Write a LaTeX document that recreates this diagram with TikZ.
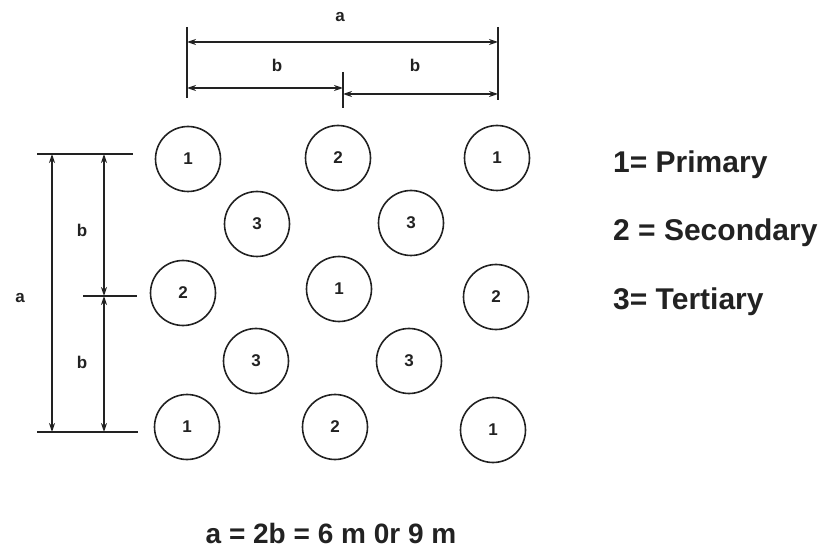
\documentclass[tikz,border=0pt]{standalone}
\usepackage{fontspec}
\setmainfont{Liberation Sans}
\usetikzlibrary{arrows.meta}
\definecolor{Ink}{HTML}{222222}

\begin{document}
\begin{tikzpicture}[x=1pt,y=-1pt,
    pile/.style={circle,draw=Ink,line width=1.6pt,minimum size=65pt,inner sep=0pt,
      text=Ink,font=\fontsize{17}{17}\selectfont\bfseries},
    dim/.style={Ink,line width=1.5pt,{Stealth[length=9pt,width=6pt]}-{Stealth[length=9pt,width=6pt]}},
    ext/.style={Ink,line width=1.5pt},
    lab/.style={text=Ink,font=\fontsize{17}{17}\selectfont\bfseries},
    legend/.style={anchor=base west,inner sep=0pt,text=Ink,font=\fontsize{30}{30}\selectfont\bfseries}]
  \useasboundingbox (0,0) rectangle (828,548);
  % piles
  \foreach \n/\x/\y/\t in {
    pa/188/159/1,pb/338/158/2,pc/497/158/1,
    ta/257/224/3,tb/411/223/3,
    pd/183/293/2,pe/339/289/1,pf/496/297/2,
    tc/256/361/3,td/409/361/3,
    pg/187/427/1,ph/335/427/2,pi/493/430/1}
    \node[pile] (\n) at (\x,\y) {\t};
  % top dimension
  \coordinate (topL1) at (187,27);  \coordinate (topL2) at (187,98);
  \coordinate (topR1) at (498,27);  \coordinate (topR2) at (498,100);
  \coordinate (topM1) at (343,72);  \coordinate (topM2) at (343,108);
  \draw[ext] (topL1) -- (topL2);
  \draw[ext] (topR1) -- (topR2);
  \draw[ext] (topM1) -- (topM2);
  \coordinate (aL) at (187,42);  \coordinate (aR) at (498,42);
  \coordinate (bL1) at (187,88); \coordinate (bL2) at (343,88);
  \coordinate (bR1) at (343,94); \coordinate (bR2) at (498,94);
  \draw[dim] (aL) -- (aR);
  \draw[dim] (bL1) -- (bL2);
  \draw[dim] (bR1) -- (bR2);
  \node[lab] (la) at (340,17) {a};
  \node[lab] (lb1) at (277,65) {b};
  \node[lab] (lb2) at (415,65) {b};
  % left dimension
  \coordinate (sT1) at (37,154);  \coordinate (sT2) at (133,154);
  \coordinate (sB1) at (37,432);  \coordinate (sB2) at (138,432);
  \coordinate (sM1) at (83,296);  \coordinate (sM2) at (137,296);
  \draw[ext] (sT1) -- (sT2);
  \draw[ext] (sB1) -- (sB2);
  \draw[ext] (sM1) -- (sM2);
  \coordinate (vaT) at (52,154);  \coordinate (vaB) at (52,432);
  \coordinate (vbT) at (104,154); \coordinate (vbM) at (104,296);
  \coordinate (vbB) at (104,432);
  \draw[dim] (vaT) -- (vaB);
  \draw[dim] (vbT) -- (vbM);
  \draw[dim] (vbM) -- (vbB);
  \node[lab] (sa) at (20,298) {a};
  \node[lab] (sb1) at (82,230) {b};
  \node[lab] (sb2) at (82,362) {b};
  % legend
  \node[legend] (l1) at (613,173) {1= Primary};
  \node[legend] (l2) at (613,241) {2 = Secondary};
  \node[legend] (l3) at (613,309) {3= Tertiary};
  % note
  \node[anchor=base,inner sep=0pt,text=Ink,font=\fontsize{28}{28}\selectfont\bfseries] (note) at (331,543) {a = 2b = 6 m 0r 9 m};
\end{tikzpicture}
\end{document}
